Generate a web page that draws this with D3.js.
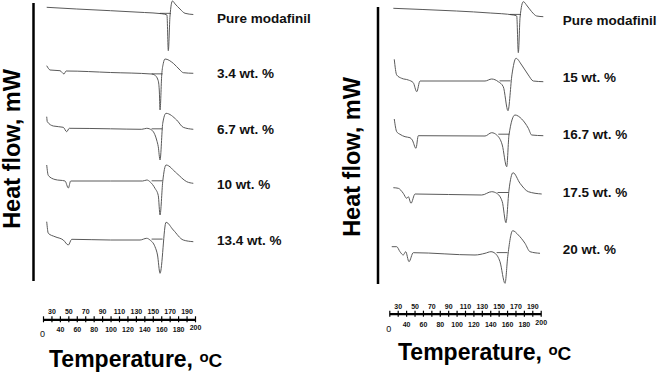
<!DOCTYPE html>
<html>
<head>
<meta charset="utf-8">
<script src="https://cdn.jsdelivr.net/npm/d3@7"></script>
<style>
    body { margin: 0; background: #fff; }
    svg { display: block; }
    .curve { fill: none; stroke: #5a5a5a; stroke-width: 1; }
    .tangent { stroke: #333; stroke-width: 0.8; }
    .lbl { font-family: "Liberation Sans", Arial, sans-serif; font-weight: bold; font-size: 13.5px; fill: #111; }
    .tick text { font-family: "Liberation Sans", Arial, sans-serif; font-weight: bold; font-size: 7px; fill: #111; }
</style>
</head>
<body>
<svg id="chart" width="663" height="372"></svg>
<script>
// DSC traces: [temperature (C), heat flow (arbitrary mW, 0 = baseline of the row)]
var pureL = [[24.4, 6.7], [60, 5], [100, 3.3], [140, 1.5], [160.5, 0.3], [166.8, -1], [168.4, -36.7], [170.4, -2], [173.3, 13], [176.5, 10], [182.2, 5], [188.2, 0.7], [198, -0.5]];
var wt34 = [[24.4, 4.8], [26.3, 2.2], [28.3, 0.5], [40.1, -0.2], [44.9, -3.5], [47.3, -0.5], [100, -2], [148.7, -3.5], [152.2, -4.5], [156.2, -9.5], [157.7, -19.5], [158.6, -39.5], [160.6, -4.5], [162.5, 7.2], [164.5, 11.5], [174.3, 7.2], [182.2, 0.5], [186.1, -2.2], [198, -2.8]];
var wt67 = [[24.4, 10.3], [25.1, 5.3], [32.2, 1], [44, -0.3], [48.1, -4.7], [51.1, -1.3], [100, -1.8], [136.9, -2.3], [142.8, -1.3], [148.7, -3], [154.6, -13], [156.5, -19.7], [158.6, -33], [161.8, 3.7], [165.7, 13.7], [178.3, 7], [186.1, -0.3], [198, -2.3]];
var wt10 = [[24.4, 18.5], [26.3, 8], [34.2, 4], [46.1, 2.5], [50, -4.5], [52.8, 2.5], [100, 2.5], [138, 2.5], [143, 3.5], [147, 1.5], [152.6, -4.8], [156.5, -12], [158.6, -31.5], [161.8, 2], [165.7, 18.5], [178.3, 10.2], [190.2, 1.8], [198, 0.2]];
var wt134 = [[24.4, 18.3], [26.3, 6.7], [34.2, 3.3], [44, 0], [50, -5], [54, 0.7], [100, 0], [134.9, 0], [142.8, 1.7], [146.7, 0], [152.6, -6.7], [155.6, -15], [158.6, -33.3], [165.7, 17.7], [174.3, 10], [186.1, 0], [198, -1.7]];

var pureR = [[24.8, 6.7], [60, 5.5], [100, 4], [140, 2], [167.4, 0], [171.5, -1], [173.4, -37.7], [175.5, -2], [179.3, 13.3], [184, 9], [189.3, 3.3], [195.2, -1], [203.1, -1.7]];
var wt15 = [[25.9, 14.9], [28.8, -0.8], [34.7, -4.1], [42.6, -5.8], [48.5, -8.5], [52.6, -17.5], [56.5, -6.8], [133.8, -6.8], [141.7, -4.8], [149.6, -7.5], [155.5, -12.5], [161.1, -36.5], [165.9, 0], [170.6, 15.9], [177.4, 9.2], [185.3, -0.8], [191.2, -6.8], [203.1, -7.5]];
var wt167 = [[25.9, 14.4], [28.8, 1.7], [32.7, -0.9], [38.7, -3.3], [44.6, -4.3], [47.3, -6.6], [51.7, -14.9], [54.5, -2.3], [133.8, -2.6], [141.7, 0.7], [147.7, -1.6], [154.3, -11.6], [159.6, -33.3], [162.3, -1.6], [169.4, 18.4], [177.4, 14.4], [185.3, 5.1], [189.3, -1.6], [203.1, -2.3]];
var wt175 = [[24.8, 4.9], [30.7, 4.3], [36.6, -0.7], [40.7, -5.7], [42.6, -4.1], [45.8, -10.7], [50.6, -1.4], [129.9, -2.4], [141.7, 0.9], [147.7, -0.7], [154.3, -9.1], [158.7, -30.1], [162.3, 2.6], [167.1, 19.9], [175.4, 9.3], [185.3, 0.9], [201.2, -1.4]];
var wt20 = [[22.9, 5.1], [28.8, 5.1], [32.7, 0.1], [36.6, -3.2], [39.5, 0.1], [43.4, -9.9], [48.5, -0.9], [121.9, -3.2], [133.8, -1.5], [140.9, 0.1], [145.7, -1.5], [151.6, -9.9], [157.6, -31.5], [160.8, -4.9], [166.7, 21.1], [173.4, 16.8], [181.3, 8.5], [187.3, 0.1], [199.2, -1.5]];

var leftSeries = [pureL, wt34, wt67, wt10, wt134];
var leftNames = ["Pure modafinil", "3.4 wt. %", "6.7 wt. %", "10 wt. %", "13.4 wt. %"];
var rightSeries = [pureR, wt15, wt167, wt175, wt20];
var rightNames = ["Pure modafinil", "15 wt. %", "16.7 wt. %", "17.5 wt. %", "20 wt. %"];

// temperature scale bar
var minorTicks = d3.range(20, 201, 10);
var topTicks = [30, 50, 70, 90, 110, 130, 150, 170, 190];
var bottomTicks = [20, 40, 60, 80, 100, 120, 140, 160, 180, 200];

var svg = d3.select("#chart");

var panels = [
    { series: leftSeries, names: leftNames, x0: 43, x1: 195, axisY: 319.3, lineX: 33.5, lineTop: 3, lineBottom: 281,
      yLabelX: 20, yLabelY: 149, titleX: 49, titleY: 366.5, rowTop: 14, rowStep: 56.5, labelTop: 23, labelStep: 55.4 },
    { series: rightSeries, names: rightNames, x0: 389.3, x1: 540.7, axisY: 313.7, lineX: 378, lineTop: 7, lineBottom: 284,
      yLabelX: 360, yLabelY: 157, titleX: 398, titleY: 360, rowTop: 15, rowStep: 59.2, labelTop: 25, labelStep: 57.2 }
];

// heat flow at temperature t, linear between read points
function valueAt(s, t) {
    var i = d3.bisector(function (d) { return d[0]; }).left(s, t);
    if (i <= 0) return s[0][1];
    if (i >= s.length) return s[s.length - 1][1];
    var a = s[i - 1], b = s[i];
    return a[1] + (b[1] - a[1]) * (t - a[0]) / (b[0] - a[0]);
}

panels.forEach(function (p) {
    var g = svg.append("g");
    var x = d3.scaleLinear().domain([20, 200]).range([p.x0, p.x1]);
    // 1 heat-flow unit per pixel, rows stacked downwards
    var y = d3.scaleLinear().domain([0, -300]).range([p.rowTop, p.rowTop + 300]);

    var line = d3.line()
        .x(function (d) { return x(d[0]); })
        .curve(d3.curveMonotoneX);

    p.series.forEach(function (s, i) {
        var shift = i * p.rowStep;
        line.y(function (d) { return y(d[1] - shift); });
        g.append("path").attr("class", "curve").attr("d", line(s));

        // melting onset tangent, taken from the baseline before the peak
        var tMin = s[d3.minIndex(s, function (d) { return d[1]; })][0];
        var base = valueAt(s, tMin - 14);
        g.append("line").attr("class", "tangent")
            .attr("x1", x(tMin - 10)).attr("x2", x(tMin + 3))
            .attr("y1", y(base - shift)).attr("y2", y(base - shift));

        g.append("text")
            .attr("class", "lbl")
            .attr("x", x(200) + 22)
            .attr("y", p.labelTop + i * p.labelStep)
            .text(p.names[i]);
    });

    // vertical heat flow bar
    g.append("line")
        .attr("x1", p.lineX).attr("x2", p.lineX)
        .attr("y1", p.lineTop).attr("y2", p.lineBottom)
        .attr("stroke", "#000").attr("stroke-width", 2.5);

    g.append("text")
        .attr("transform", "translate(" + p.yLabelX + "," + p.yLabelY + ") rotate(-90)")
        .attr("text-anchor", "middle")
        .style("font-family", "'Liberation Sans', Arial, sans-serif")
        .style("font-weight", "bold")
        .style("font-size", "23.5px")
        .text("Heat flow, mW");

    // temperature scale bar
    var ga = g.append("g").attr("transform", "translate(0," + p.axisY + ")");
    ga.call(d3.axisBottom(x).tickValues(minorTicks).tickSize(3).tickSizeOuter(0).tickFormat(""));
    ga.select(".domain").attr("stroke", "#000").attr("stroke-width", 2.2);
    ga.selectAll(".tick line").attr("y1", -3).attr("stroke", "#000").attr("stroke-width", 1.2);

    var gt = g.append("g").attr("transform", "translate(0," + (p.axisY - 5) + ")");
    gt.call(d3.axisTop(x).tickValues(topTicks).tickSize(0).tickPadding(0));
    gt.select(".domain").remove();

    var gb = g.append("g").attr("transform", "translate(0," + (p.axisY + 8) + ")");
    gb.call(d3.axisBottom(x).tickValues(bottomTicks).tickSize(0).tickPadding(0)
        .tickFormat(function (d) { return d === 20 ? "0" : d; }));
    gb.select(".domain").remove();
    gb.selectAll(".tick text")
        .filter(function (d) { return d === 20; })
        .attr("x", -1).attr("dy", "1.1em")
        .style("font-size", "9px").style("font-weight", "normal");
    gb.selectAll(".tick text")
        .filter(function (d) { return d === 200; })
        .attr("dy", "0.45em");

    var title = g.append("text")
        .attr("x", p.titleX).attr("y", p.titleY)
        .style("font-family", "'Liberation Sans', Arial, sans-serif")
        .style("font-weight", "bold")
        .style("font-size", "23px");
    title.append("tspan").text("Temperature, ");
    title.append("tspan").attr("dy", -5).style("font-size", "15px").text("o");
    title.append("tspan").attr("dy", 5).style("font-size", "19px").text("C");
});
</script>
</body>
</html>
